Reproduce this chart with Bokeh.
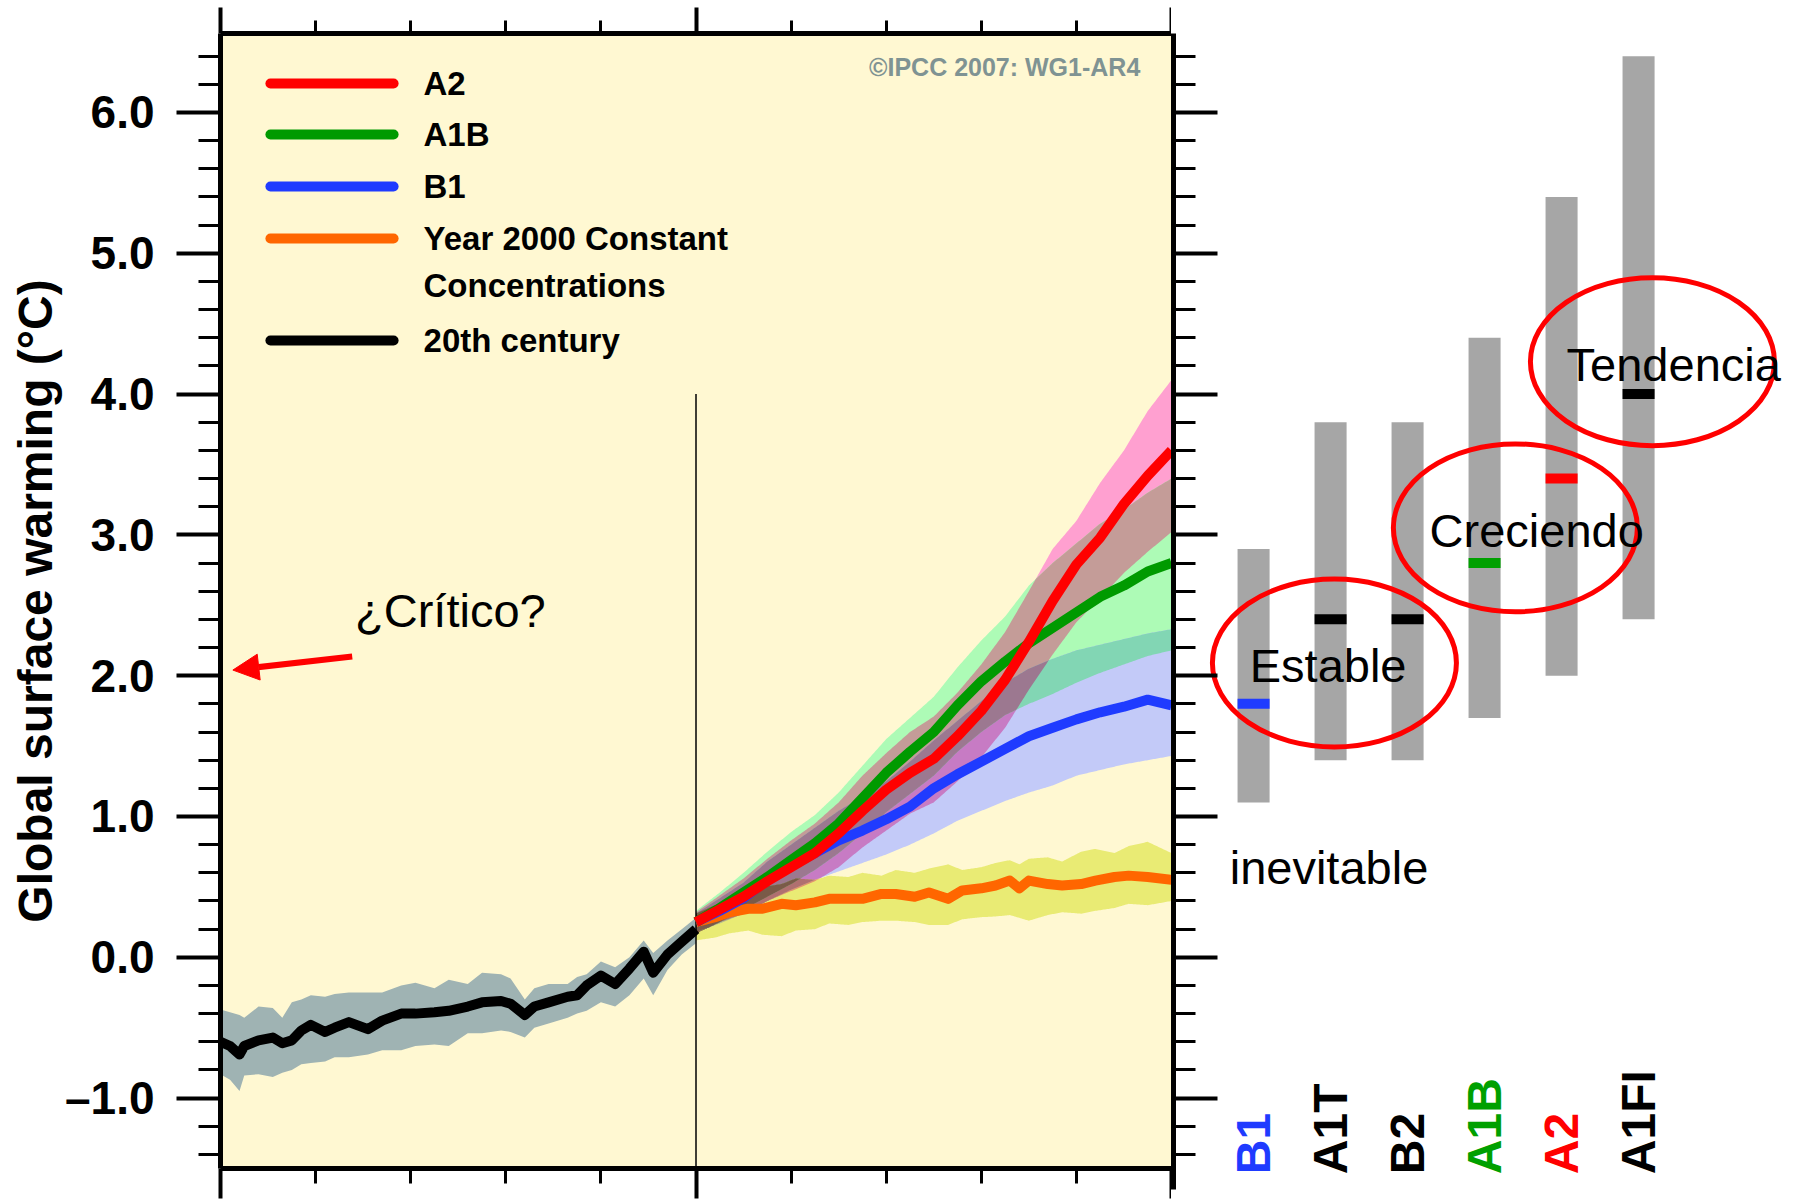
import numpy as np
from itertools import combinations
from bokeh.plotting import figure
from bokeh.layouts import row
from bokeh.models import (Range1d, FixedTicker, LinearAxis, Arrow, NormalHead,
                          CustomJSTickFormatter, ColumnDataSource)
from bokeh.core.properties import value
from bokeh.embed import file_html
from bokeh.resources import INLINE

# ------------------------------------------------------------------ data
# 20th century multi-model mean and +/-1 sd band (deg C)
hist_years = [1900, 1902, 1904, 1905, 1908, 1911, 1913, 1915, 1917, 1919, 1922, 1924, 1927,
              1931, 1934, 1938, 1941, 1945, 1948, 1952, 1955, 1959, 1961, 1964, 1966, 1969,
              1973, 1975, 1977, 1980, 1983, 1986, 1989, 1991, 1994, 1997, 2000]
hist_mean = [-0.60, -0.63, -0.69, -0.63, -0.59, -0.57, -0.61, -0.59, -0.52, -0.48, -0.53, -0.50,
             -0.46, -0.51, -0.45, -0.40, -0.40, -0.39, -0.38, -0.35, -0.32, -0.31, -0.33, -0.41,
             -0.35, -0.32, -0.28, -0.27, -0.20, -0.13, -0.19, -0.08, 0.04, -0.11, 0.02, 0.11, 0.20]
hist_hi = [-0.37, -0.39, -0.41, -0.43, -0.35, -0.36, -0.43, -0.32, -0.30, -0.27, -0.28, -0.26,
           -0.25, -0.25, -0.25, -0.20, -0.18, -0.22, -0.16, -0.19, -0.11, -0.12, -0.15, -0.30,
           -0.22, -0.19, -0.19, -0.14, -0.12, -0.03, -0.07, 0.00, 0.12, 0.03, 0.12, 0.20, 0.28]
hist_lo = [-0.83, -0.87, -0.95, -0.84, -0.83, -0.85, -0.82, -0.80, -0.76, -0.75, -0.74, -0.71,
           -0.71, -0.69, -0.66, -0.66, -0.63, -0.62, -0.63, -0.54, -0.54, -0.52, -0.53, -0.57,
           -0.50, -0.47, -0.43, -0.40, -0.38, -0.32, -0.35, -0.27, -0.15, -0.27, -0.09, 0.02, 0.10]

# 21st century scenario projections
proj_years = [2000, 2005, 2010, 2015, 2020, 2025, 2030, 2035, 2040, 2045, 2050,
              2055, 2060, 2065, 2070, 2075, 2080, 2085, 2090, 2095, 2100]
a2_mean = [0.25, 0.34, 0.43, 0.54, 0.64, 0.74, 0.88, 1.04, 1.19, 1.31, 1.41,
           1.57, 1.75, 1.97, 2.24, 2.53, 2.79, 2.98, 3.22, 3.42, 3.60]
a2_hi = [0.32, 0.44, 0.56, 0.70, 0.83, 0.95, 1.10, 1.29, 1.45, 1.60, 1.71,
         1.88, 2.08, 2.31, 2.60, 2.90, 3.10, 3.37, 3.60, 3.88, 4.10]
a2_lo = [0.17, 0.25, 0.31, 0.40, 0.47, 0.54, 0.64, 0.78, 0.90, 1.02, 1.10,
         1.25, 1.42, 1.63, 1.90, 2.15, 2.38, 2.55, 2.73, 2.88, 3.02]
a1b_mean = [0.25, 0.35, 0.46, 0.57, 0.69, 0.81, 0.95, 1.13, 1.31, 1.46, 1.60,
            1.79, 1.96, 2.10, 2.23, 2.34, 2.45, 2.56, 2.64, 2.74, 2.80]
a1b_hi = [0.33, 0.46, 0.60, 0.75, 0.89, 1.01, 1.17, 1.36, 1.55, 1.70, 1.85,
          2.06, 2.25, 2.42, 2.64, 2.80, 2.94, 3.08, 3.18, 3.30, 3.40]
a1b_lo = [0.17, 0.25, 0.34, 0.43, 0.52, 0.62, 0.74, 0.88, 1.03, 1.16, 1.29,
          1.46, 1.60, 1.72, 1.80, 1.87, 1.95, 2.02, 2.08, 2.14, 2.18]
b1_mean = [0.25, 0.33, 0.42, 0.55, 0.65, 0.74, 0.83, 0.90, 0.98, 1.07, 1.20,
           1.30, 1.39, 1.48, 1.57, 1.63, 1.69, 1.74, 1.78, 1.83, 1.79]
b1_hi = [0.31, 0.42, 0.53, 0.68, 0.80, 0.92, 1.04, 1.14, 1.25, 1.39, 1.54,
         1.68, 1.82, 1.95, 2.05, 2.12, 2.18, 2.22, 2.26, 2.30, 2.33]
b1_lo = [0.18, 0.24, 0.31, 0.40, 0.48, 0.55, 0.61, 0.67, 0.73, 0.80, 0.88,
         0.97, 1.04, 1.11, 1.17, 1.22, 1.29, 1.33, 1.37, 1.40, 1.43]

const_years = [2000, 2004, 2007, 2011, 2014, 2018, 2021, 2025, 2028, 2032, 2035, 2039, 2042,
               2046, 2049, 2053, 2056, 2060, 2063, 2066, 2068, 2070, 2074, 2077, 2081, 2084,
               2088, 2091, 2095, 2100]
const_mean = [0.25, 0.285, 0.32, 0.345, 0.345, 0.38, 0.37, 0.39, 0.415, 0.415, 0.415, 0.45, 0.45,
              0.43, 0.46, 0.415, 0.475, 0.49, 0.51, 0.545, 0.49, 0.545, 0.52, 0.51, 0.52, 0.545,
              0.57, 0.58, 0.57, 0.55]
const_hi = [0.31, 0.37, 0.40, 0.45, 0.50, 0.52, 0.56, 0.55, 0.58, 0.57, 0.60, 0.58, 0.62,
            0.60, 0.63, 0.66, 0.62, 0.64, 0.67, 0.69, 0.66, 0.70, 0.71, 0.68, 0.75, 0.77,
            0.74, 0.79, 0.82, 0.74]
const_lo = [0.12, 0.14, 0.17, 0.19, 0.16, 0.15, 0.19, 0.20, 0.24, 0.23, 0.25, 0.26, 0.26,
            0.25, 0.23, 0.23, 0.27, 0.285, 0.29, 0.30, 0.28, 0.26, 0.30, 0.32, 0.31, 0.33,
            0.35, 0.38, 0.37, 0.40]

# best estimate and likely range of warming at 2090-2099 per SRES scenario
scenarios = ["B1", "A1T", "B2", "A1B", "A2", "A1FI"]
scen_best = [1.8, 2.4, 2.4, 2.8, 3.4, 4.0]
scen_low = [1.1, 1.4, 1.4, 1.7, 2.0, 2.4]
scen_high = [2.9, 3.8, 3.8, 4.4, 5.4, 6.4]

legend_labels = ["A2", "A1B", "B1", "Year 2000 Constant", "Concentrations", "20th century"]
y_ticks = [-1, 0, 1, 2, 3, 4, 5, 6]
x_ticks = [1900, 2000, 2100]

# ------------------------------------------------------------------ style
SANS = "Liberation Sans"
CREAM = "#FFF8D2"
RED, GREEN, BLUE, ORANGE, BLACK = "#FF0000", "#009A00", "#1F3BFF", "#FF6600", "#000000"
HIST_BAND = "#9FB3B3"
BAND_NAMES = ["A2", "A1B", "B1", "C"]
BAND_COLORS = {
    ("A2",): "#FFA0D0", ("A1B",): "#ADFBB6", ("B1",): "#C3CAF8", ("C",): "#E9EB74",
    ("A2", "A1B"): "#C49C98", ("A2", "B1"): "#C77BC4", ("A1B", "B1"): "#82D6B4",
    ("A2", "C"): "#E3936E", ("A1B", "C"): "#A3DF6E", ("B1", "C"): "#B4BC8C",
    ("A2", "A1B", "B1"): "#9C7890", ("A2", "A1B", "C"): "#8C5E3E",
    ("A2", "B1", "C"): "#B07070", ("A1B", "B1", "C"): "#7CB87C",
    ("A2", "A1B", "B1", "C"): "#7A5A48",
}
SCEN_MARK = [BLUE, BLACK, BLACK, "#00A000", RED, BLACK]
SCEN_TEXT = [BLUE, BLACK, BLACK, "#00A000", RED, BLACK]

Y_LO, Y_HI = -1.5, 6.561
F1_W, F1_H = 951, 1135
F2_W, F2_H = 636, 1156
Y2_LO = Y_HI - F2_H * (Y_HI - Y_LO) / F1_H

minor_y = [round(v, 1) for v in np.arange(-1.4, 6.41, 0.2) if abs(v - round(v)) > 1e-6]
minor_x = [1920, 1940, 1960, 1980, 2020, 2040, 2060, 2080]
NO_LABEL = "return '';"

# ------------------------------------------------------------------ main panel
p = figure(frame_width=F1_W, frame_height=F1_H, x_range=Range1d(1900, 2100),
           y_range=Range1d(Y_LO, Y_HI), output_backend="svg", toolbar_location=None,
           min_border_left=220, min_border_right=0, min_border_top=33, min_border_bottom=31,
           x_axis_location=None, y_axis_location=None, background_fill_color=CREAM,
           border_fill_color="white", outline_line_color=None)
p.xgrid.visible = False
p.ygrid.visible = False

yax = LinearAxis(ticker=FixedTicker(ticks=y_ticks, minor_ticks=minor_y),
                 formatter=CustomJSTickFormatter(code="return (tick < 0 ? '\\u2013' : '') + Math.abs(tick).toFixed(1);"),
                 axis_label="Global surface warming (°C)", axis_label_standoff=0,
                 axis_label_text_font=SANS, axis_label_text_font_size="48px",
                 axis_label_text_font_style="bold", axis_label_text_color=BLACK,
                 major_label_text_font=SANS, major_label_text_font_size="46px",
                 major_label_text_font_style="bold", major_label_text_color=BLACK,
                 major_label_standoff=22, major_tick_out=44, major_tick_in=0,
                 minor_tick_out=22, minor_tick_in=0, major_tick_line_width=4,
                 minor_tick_line_width=3, axis_line_width=5)
p.add_layout(yax, "left")
for loc, mt, nt in (("above", 26, 13), ("below", 30, 15)):
    ax = LinearAxis(ticker=FixedTicker(ticks=x_ticks, minor_ticks=minor_x),
                    formatter=CustomJSTickFormatter(code=NO_LABEL),
                    major_label_text_font_size="1px", major_label_standoff=0,
                    major_tick_out=mt, major_tick_in=0, minor_tick_out=nt, minor_tick_in=0,
                    major_tick_line_width=4, minor_tick_line_width=3, axis_line_width=5)
    p.add_layout(ax, loc)

# 20th century band
p.varea(x=hist_years, y1=hist_lo, y2=hist_hi, fill_color=HIST_BAND)

# projection bands: overlapping parts get the combined (multiplied) tint
bands = {"A2": (proj_years, a2_lo, a2_hi), "A1B": (proj_years, a1b_lo, a1b_hi),
         "B1": (proj_years, b1_lo, b1_hi), "C": (const_years, const_lo, const_hi)}
grid = np.arange(2000, 2100.001, 0.25)
lo_g = {k: np.interp(grid, v[0], v[1]) for k, v in bands.items()}
hi_g = {k: np.interp(grid, v[0], v[2]) for k, v in bands.items()}
for n in range(1, 5):
    for combo in combinations(BAND_NAMES, n):
        lo = np.max([lo_g[k] for k in combo], axis=0)
        hi = np.min([hi_g[k] for k in combo], axis=0)
        hi = np.maximum(hi, lo)
        p.varea(x=grid, y1=lo, y2=hi, fill_color=BAND_COLORS[combo])

# divider at year 2000
p.segment(x0=[2000], y0=[Y_LO], x1=[2000], y1=[4.0], line_color=BLACK, line_width=1.5)

lw = 10
p.line(const_years, const_mean, line_color=ORANGE, line_width=lw, line_join="round")
p.line(proj_years, b1_mean, line_color=BLUE, line_width=lw, line_join="round")
p.line(proj_years, a1b_mean, line_color=GREEN, line_width=lw, line_join="round")
p.line(proj_years, a2_mean, line_color=RED, line_width=lw, line_join="round")
p.line(hist_years, hist_mean, line_color=BLACK, line_width=lw, line_join="round")

# legend (drawn by hand to match the original layout)
LEG_X0, LEG_X1, LEG_TX = 1910.5, 1936.4, 1942.7
leg_line_y = [6.206, 5.844, 5.474, 5.105, 4.381]
leg_text_y = [6.206, 5.844, 5.474, 5.105, 4.771, 4.381]
p.segment(x0=[LEG_X0] * 5, y0=leg_line_y, x1=[LEG_X1] * 5, y1=leg_line_y,
          line_color=[RED, GREEN, BLUE, ORANGE, BLACK], line_width=10, line_cap="round")
p.text(x=[LEG_TX] * 6, y=leg_text_y, text=legend_labels, text_font=value(SANS),
       text_font_style="bold", text_font_size="33px", text_color=BLACK,
       text_align="left", text_baseline="middle")

p.text(x=[2094.9], y=[6.32], text=["©IPCC  2007: WG1-AR4"], text_font=value(SANS),
       text_font_style="bold", text_font_size="25px", text_color="#7F9393",
       text_align="right", text_baseline="middle")

p.text(x=[1928.3], y=[2.46], text=["¿Crítico?"], text_font=value(SANS),
       text_font_size="47px", text_color=BLACK, text_align="left", text_baseline="alphabetic")
p.add_layout(Arrow(end=NormalHead(size=26, fill_color=RED, line_color=RED),
                   x_start=1927.7, y_start=2.137, x_end=1902.6, y_end=2.04,
                   line_color=RED, line_width=6))

# ------------------------------------------------------------------ scenario panel
p2 = figure(frame_width=F2_W, frame_height=F2_H, x_range=Range1d(-1.04, 7.22),
            y_range=Range1d(Y2_LO, Y_HI), output_backend="svg", toolbar_location=None,
            min_border_left=2, min_border_right=0, min_border_top=33, min_border_bottom=10,
            x_axis_location=None, y_axis_location=None, background_fill_color="white",
            border_fill_color="white", outline_line_color=None)
p2.xgrid.visible = False
p2.ygrid.visible = False
rax = LinearAxis(ticker=FixedTicker(ticks=y_ticks, minor_ticks=minor_y),
                 formatter=CustomJSTickFormatter(code=NO_LABEL),
                 major_label_text_font_size="1px", major_label_standoff=0,
                 major_tick_out=0, major_tick_in=44, minor_tick_out=0, minor_tick_in=22,
                 major_tick_line_width=4, minor_tick_line_width=3, axis_line_width=5)
p2.add_layout(rax, "left")

idx = list(range(len(scenarios)))
p2.vbar(x=idx, bottom=scen_low, top=scen_high, width=0.416, fill_color="#A6A6A6",
        line_color=None)
p2.rect(x=idx, y=scen_best, width=0.416, height=10, height_units="screen",
        fill_color=SCEN_MARK, line_color=None)

p2.ellipse(x=[1.05, 3.40, 5.18], y=[2.09, 3.05, 4.23], width=244, height=168,
           width_units="screen", height_units="screen", fill_color=None,
           line_color=RED, line_width=5)

p2.text(x=[-0.05, -0.31, 2.286, 4.065], y=[2.07, 0.64, 3.03, 4.21],
        text=["Estable", "inevitable", "Creciendo", "Tendencia"], text_font=value(SANS),
        text_font_size="47px", text_color=BLACK, text_align="left", text_baseline="alphabetic")

lab_src = ColumnDataSource(dict(x=idx, y=[-1.54] * len(idx), t=scenarios, c=SCEN_TEXT))
p2.text(x="x", y="y", text="t", text_color="c", source=lab_src, angle=np.pi / 2,
        text_font=value(SANS), text_font_style="bold", text_font_size="48px",
        text_align="left", text_baseline="middle")

layout = row(p, p2, spacing=0)
with open("out.html", "w", encoding="utf-8") as f:
    f.write(file_html(layout, INLINE))
